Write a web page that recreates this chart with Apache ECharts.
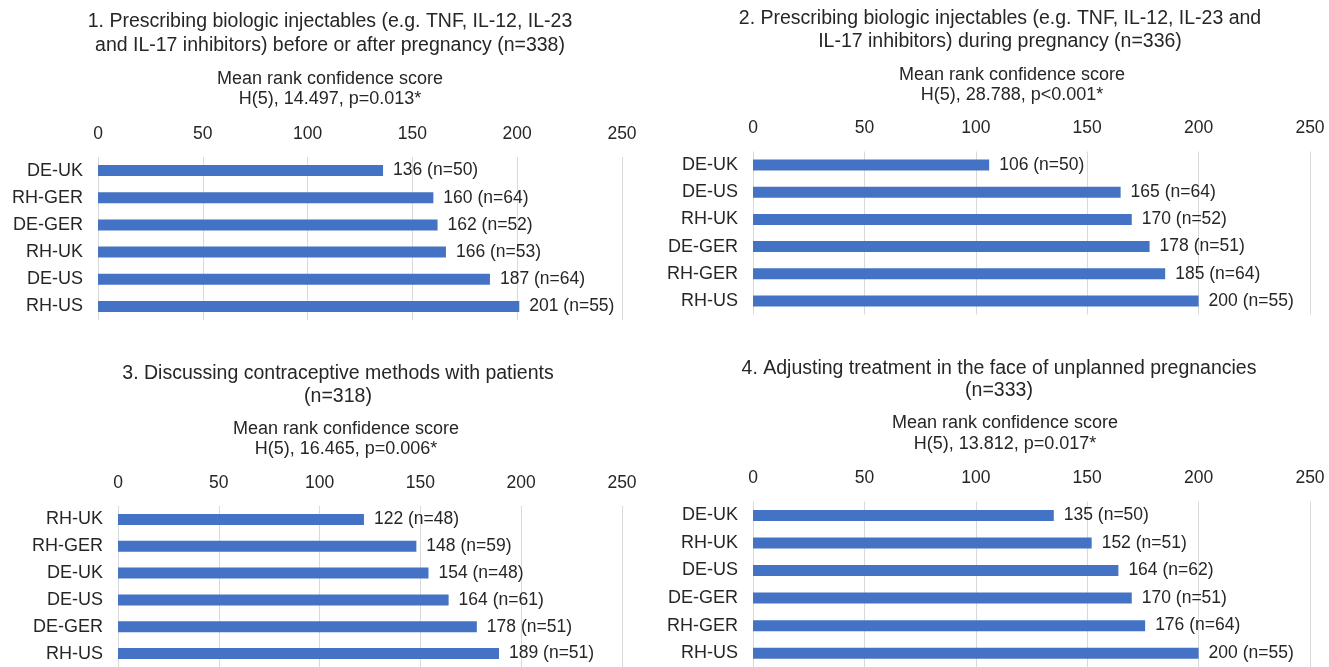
<!DOCTYPE html>
<html>
<head>
<meta charset="utf-8">
<script src="https://cdn.jsdelivr.net/npm/echarts@6/dist/echarts.min.js"></script>
<style>html,body{margin:0;padding:0;background:#fff;}#c{width:1329px;height:667px;}</style>
</head>
<body>
<div id="c"></div>
<script>
// ---- data ----
const cats1 = ["DE-UK","RH-GER","DE-GER","RH-UK","DE-US","RH-US"];
const vals1 = [136,160,162,166,187,201];
const n1 = [50,64,52,53,64,55];

const cats2 = ["DE-UK","DE-US","RH-UK","DE-GER","RH-GER","RH-US"];
const vals2 = [106,165,170,178,185,200];
const n2 = [50,64,52,51,64,55];

const cats3 = ["RH-UK","RH-GER","DE-UK","DE-US","DE-GER","RH-US"];
const vals3 = [122,148,154,164,178,189];
const n3 = [48,59,48,61,51,51];

const cats4 = ["DE-UK","RH-UK","DE-US","DE-GER","RH-GER","RH-US"];
const vals4 = [135,152,164,170,176,200];
const n4 = [50,51,62,51,64,55];

const titles = [
  ["1. Prescribing biologic injectables (e.g. TNF, IL-12, IL-23", "and IL-17 inhibitors) before or after pregnancy (n=338)"],
  ["2. Prescribing biologic injectables (e.g. TNF, IL-12, IL-23 and", "IL-17 inhibitors) during pregnancy (n=336)"],
  ["3. Discussing contraceptive methods with patients", "(n=318)"],
  ["4. Adjusting treatment in the face of unplanned pregnancies", "(n=333)"]
];
const subtitles = [
  ["Mean rank confidence score", "H(5), 14.497, p=0.013*"],
  ["Mean rank confidence score", "H(5), 28.788, p<0.001*"],
  ["Mean rank confidence score", "H(5), 16.465, p=0.006*"],
  ["Mean rank confidence score", "H(5), 13.812, p=0.017*"]
];

// ---- layout ----
const FONT = 'Liberation Sans, Arial, sans-serif';
const TXT = '#262626';
const grids = [
  {left: 98, top: 157, width: 524, height: 163},
  {left: 753, top: 151.5, width: 557, height: 163},
  {left: 118, top: 506, width: 504, height: 164.4},
  {left: 753, top: 501.6, width: 557, height: 173}
];
const titlePos = [
  {x: 330, y: [22, 46], sx: 330, sy: [79, 99]},
  {x: 1000, y: [19, 42], sx: 1012, sy: [75, 95]},
  {x: 338, y: [374, 397], sx: 346, sy: [429, 449]},
  {x: 999, y: [369, 391], sx: 1005, sy: [423, 444]}
];

const allCats = [cats1, cats2, cats3, cats4];
const allVals = [vals1, vals2, vals3, vals4];
const allN = [n1, n2, n3, n4];

const chart = echarts.init(document.getElementById('c'), null, {renderer: 'canvas'});

const graphic = [];
titlePos.forEach((p, i) => {
  titles[i].forEach((t, j) => {
    graphic.push({type: 'text', x: p.x, y: p.y[j], style: {text: t, textAlign: 'center', textVerticalAlign: 'middle', font: '19.5px ' + FONT, fill: TXT}});
  });
  subtitles[i].forEach((t, j) => {
    graphic.push({type: 'text', x: p.sx, y: p.sy[j], style: {text: t, textAlign: 'center', textVerticalAlign: 'middle', font: '18px ' + FONT, fill: TXT}});
  });
});

const option = {
  animation: false,
  backgroundColor: '#fff',
  graphic: graphic,
  grid: grids.map(g => Object.assign({containLabel: false}, g)),
  xAxis: grids.map((g, i) => ({
    type: 'value', gridIndex: i, position: 'top', min: 0, max: 250, interval: 50,
    axisLine: {show: false}, axisTick: {show: false},
    axisLabel: {margin: 14, fontSize: 17.5, color: TXT, fontFamily: FONT},
    splitLine: {show: true, lineStyle: {color: '#d9d9d9', width: 1}}
  })),
  yAxis: grids.map((g, i) => ({
    type: 'category', gridIndex: i, inverse: true, data: allCats[i],
    axisLine: {show: false}, axisTick: {show: false},
    axisLabel: {margin: 15, fontSize: 18, color: TXT, fontFamily: FONT}
  })),
  series: grids.map((g, i) => ({
    type: 'bar', xAxisIndex: i, yAxisIndex: i, data: allVals[i], barWidth: 11,
    itemStyle: {color: '#4472C4'},
    label: {
      show: true, position: 'right', distance: 10, fontSize: 17.5, color: TXT, fontFamily: FONT,
      formatter: p => p.value + ' (n=' + allN[i][p.dataIndex] + ')'
    }
  }))
};
chart.setOption(option);
</script>
</body>
</html>
